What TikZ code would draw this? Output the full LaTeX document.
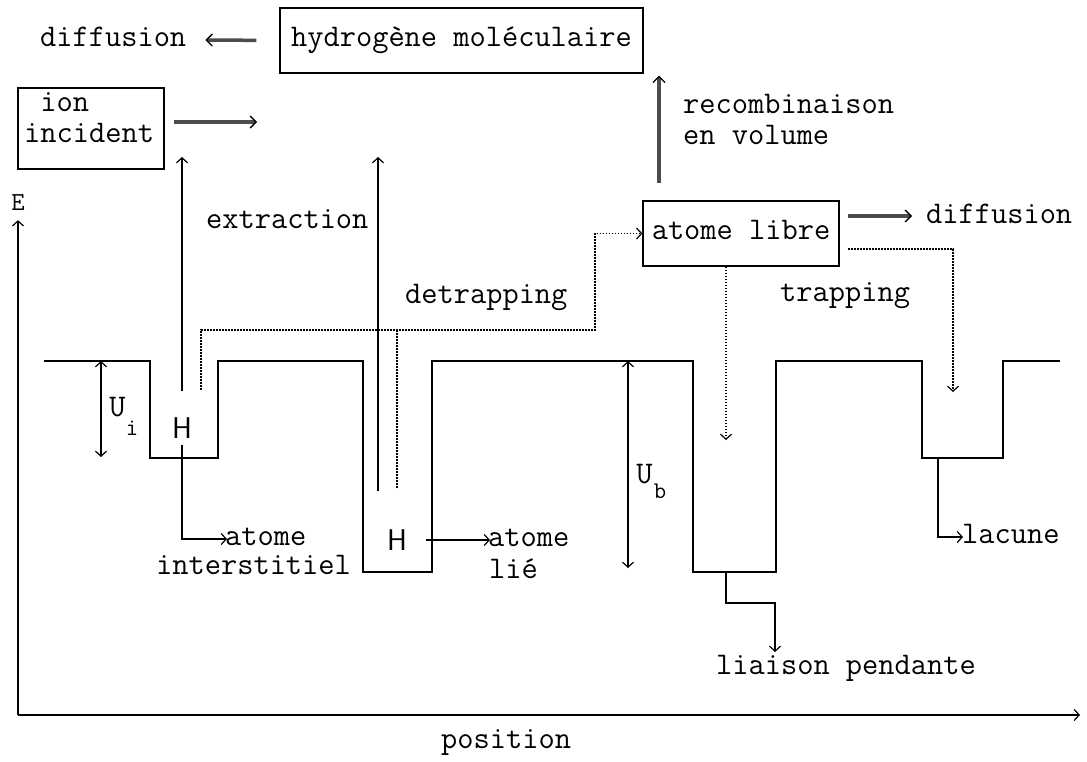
\documentclass[tikz,border=0pt]{standalone}
\usepackage{fontspec}
\usetikzlibrary{arrows.meta}
\newcommand\monotxt{\ttfamily\addfontfeatures{FakeBold=0.6}\fontsize{31.5}{32}\selectfont}
\newcommand\subtxt{\ttfamily\addfontfeatures{FakeBold=0.6}\fontsize{24}{26}\selectfont}
\newcommand\axistxt{\ttfamily\addfontfeatures{FakeBold=0.6}\fontsize{26}{28}\selectfont}
\newcommand\atomtxt{\sffamily\addfontfeatures{FakeBold=0.6}\fontsize{30}{32}\selectfont}
\begin{document}
\begin{tikzpicture}[x=1pt,y=-1pt,
  every node/.style={inner sep=0pt,font=\monotxt},
  box/.style={draw,line width=1.3pt,text height=26pt,text depth=13pt},
  lbl/.style={anchor=base west},
  profile/.style={line width=1.5pt,line join=miter},
  link/.style={line width=1.2pt},
  oneway/.style={-{Straight Barb[length=5pt,width=11pt,line width=1.2pt]}},
  twoway/.style={{Straight Barb[length=5pt,width=11pt,line width=1.2pt]}-{Straight Barb[length=5pt,width=11pt,line width=1.2pt]}},
  flux/.style={line width=3.5pt,draw=black!70,-{Straight Barb[length=6pt,width=12pt,line width=1.3pt,color=black]}},
  weak/.style={line width=1.5pt,dash pattern=on 1.6pt off 1.4pt},
]
\useasboundingbox (0,0) rectangle (1087,762);

% boxes
\node[box,minimum width=363pt,minimum height=65pt] (hyd) at (461.5,40.5) {hydrogène moléculaire};
\node[box,minimum width=146pt,minimum height=81pt] (ion) at (91,128.5) {};
\node[lbl] (ionA) at (24,111.5) {\hphantom{i}ion};
\node[lbl] (ionB) at (24,142.5) {incident};
\node[box,minimum width=196pt,minimum height=65pt] (libre) at (741,233.5) {atome libre};

% labels (placed on their baselines)
\node[lbl] (difL) at (40,46.5) {diffusion};
\node[lbl] (recA) at (683,113.5) {recombinaison};
\node[lbl] (recB) at (683,144.5) {en volume};
\node[lbl] (ext) at (206,228.5) {extraction};
\node[lbl] (detr) at (405,303.5) {detrapping};
\node[lbl] (difR) at (926,223.5) {diffusion};
\node[lbl] (trap) at (780,301.5) {trapping};
\node[lbl] (atI) at (225,545.5) {atome};
\node[lbl] (intI) at (156,574.5) {interstitiel};
\node[lbl] (atL) at (488,546.5) {atome};
\node[lbl] (lie) at (489,578.5) {lié};
\node[lbl] (lac) at (962,543.5) {lacune};
\node[lbl] (liai) at (716,674.5) {liaison pendante};
\node[lbl] (pos) at (441,748.5) {position};
\node[font=\axistxt] (E) at (18,203) {E};

% hydrogen atoms and well depths
\node[font=\atomtxt] (h1) at (182,428) {H};
\node[font=\atomtxt] (h2) at (397,540) {H};
\node (ui) at (117.5,407.5) {U};
\node[font=\subtxt] (uis) at (132,428) {i};
\node (ub) at (644.5,474) {U};
\node[font=\subtxt] (ubs) at (660,491) {b};

% potential energy profile
\draw[profile] (44,361) -- (150,361) -- (150,458) -- (218,458) -- (218,361)
  -- (363,361) -- (363,572) -- (432,572) -- (432,361)
  -- (693,361) -- (693,572) -- (776,572) -- (776,361)
  -- (922,361) -- (922,458) -- (1003,458) -- (1003,361) -- (1060,361);

% axes
\coordinate (O) at (18,715);
\coordinate (xend) at (1080,715);
\draw[link,oneway,shorten >=9pt] (O) -- (E.south);
\draw[link,oneway] (O) -- (xend);

% well depths
\draw[link,twoway] (101,361) -- (101,457);
\draw[link,twoway] (628,361) -- (628,568);

% extraction
\coordinate (ex1) at (182,157);
\coordinate (ex2s) at (378,491);
\coordinate (ex2) at (378,157);
\draw[link,oneway] ([yshift=26pt]h1.north) -- (ex1);
\draw[link,oneway] (ex2s) -- (ex2);

% detrapping
\coordinate (dt1) at (201,390);
\coordinate (dt2) at (595,330);
\coordinate (dt3) at (397,488);
\coordinate (dt4) at (397,330);
\draw[weak,oneway] (dt1) |- (dt2) |- (libre.west);
\draw[weak] (dt3) -- (dt4);

% trapping
\coordinate (tb) at (726,440);
\coordinate (tr1) at (848,249);
\coordinate (tr2) at (953,392);
\draw[weak,oneway] (libre.south -| tb) -- (tb);
\draw[weak,oneway] (tr1) -| (tr2);

% fluxes
\coordinate (rc) at (659,183);
\coordinate (ionR) at (257,122);
\coordinate (frS) at (848,216);
\draw[flux,shorten >=2pt] (rc) -- (rc |- hyd.south);
\draw[flux,shorten <=23pt] (hyd.west) -- ([xshift=19pt,yshift=6.5pt]difL.base east);
\draw[flux,shorten <=9pt] (ionR -| ion.east) -- (ionR);
\draw[flux] (frS) -- ([xshift=-14pt,yshift=7.5pt]difR.base west);

% site labels
\draw[link,oneway] ([yshift=-6pt]h1.south) |- ([xshift=2pt,yshift=6.5pt]atI.base west);
\draw[link,oneway] ([xshift=19pt]h2.east) -- ([xshift=2pt,yshift=6.5pt]atL.base west);
\coordinate (lp1) at (726,572);
\coordinate (lp2) at (775,603);
\coordinate (lp3) at (775,652);
\draw[link,oneway] (lp1) |- (lp2) -- (lp3);
\coordinate (lc) at (938,458);
\draw[link,oneway] (lc) |- ([xshift=1pt,yshift=6.5pt]lac.base west);
\end{tikzpicture}
\end{document}
